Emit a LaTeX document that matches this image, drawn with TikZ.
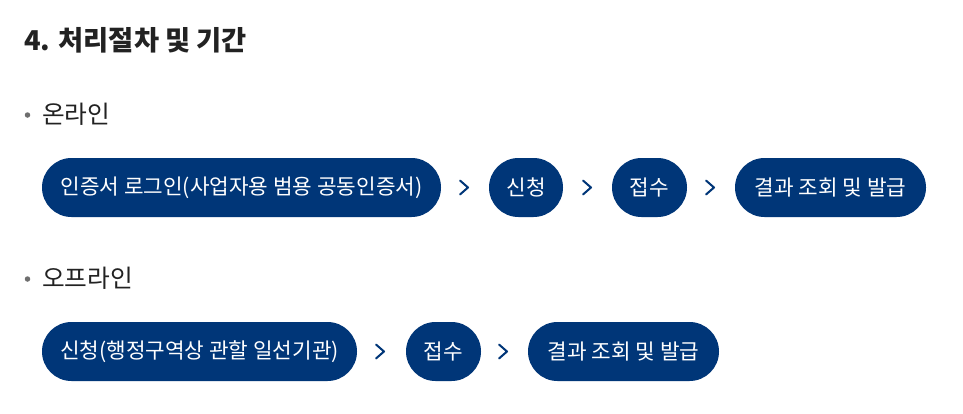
\documentclass[tikz,border=0pt]{standalone}
\usepackage{fontspec}
\newfontfamily\kr{Noto Sans CJK KR}
\definecolor{pillblue}{RGB}{0,54,120}
\definecolor{ink}{RGB}{34,34,34}
\definecolor{bulletgray}{RGB}{110,110,110}
\begin{document}
\begin{tikzpicture}[x=1pt,y=1pt,
  pill/.style={fill=pillblue, text=white, rounded corners=29.5pt, minimum height=59pt, inner sep=0pt,
    font=\kr\fontsize{21.3}{24}\selectfont},
  chev/.style={minimum width=10pt, minimum height=16pt, inner sep=0pt,
    path picture={\draw[pillblue, line width=2pt, line cap=round, line join=round]
      ([xshift=-4pt,yshift=7pt]path picture bounding box.center) --
      ([xshift=4pt]path picture bounding box.center) --
      ([xshift=-4pt,yshift=-7pt]path picture bounding box.center);}},
  heading/.style={anchor=west, inner sep=0pt, text=ink, font=\kr\bfseries\fontsize{27.3}{30}\selectfont},
  sub/.style={anchor=west, inner sep=0pt, text=ink, font=\kr\fontsize{24.7}{28}\selectfont},
  dot/.style={circle, fill=bulletgray, minimum size=5.5pt, inner sep=0pt}
]
\useasboundingbox (0,0) rectangle (963,-413);
\fill[white] (0,0) rectangle (963,-413);

\node[heading] (title) at (24,-40) {4. 처리절차 및 기간};

\node[dot] (b1) at (27.5,-115) {};
\node[sub] (online) at (42,-114) {온라인};

\node[pill, minimum width=399pt] (o1) at (241.5,-187.5) {인증서 로그인(사업자용 범용 공동인증서)};
\node[chev] (oc1) at (464,-187.5) {};
\node[pill, minimum width=74pt] (o2) at (526,-187.5) {신청};
\node[chev] (oc2) at (587,-187.5) {};
\node[pill, minimum width=75pt] (o3) at (649.5,-187.5) {접수};
\node[chev] (oc3) at (710,-187.5) {};
\node[pill, minimum width=191pt] (o4) at (830.5,-187.5) {결과 조회 및 발급};

\node[dot] (b2) at (27.5,-279) {};
\node[sub] (offline) at (42,-278) {오프라인};

\node[pill, minimum width=315pt] (f1) at (199.5,-351.5) {신청(행정구역상 관할 일선기관)};
\node[chev] (fc1) at (380,-351.5) {};
\node[pill, minimum width=75pt] (f2) at (443.5,-351.5) {접수};
\node[chev] (fc2) at (503,-351.5) {};
\node[pill, minimum width=191pt] (f3) at (623.5,-351.5) {결과 조회 및 발급};
\end{tikzpicture}
\end{document}
